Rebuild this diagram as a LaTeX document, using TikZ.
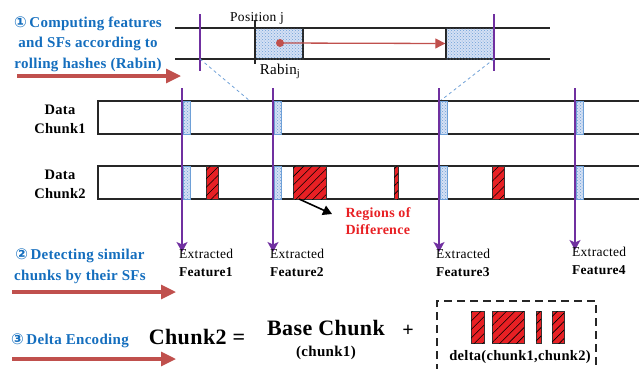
\documentclass[tikz,border=0pt]{standalone}
\usepackage{fontspec}
\setmainfont{Liberation Serif}[LetterSpace=2]
\newfontfamily\numfont{DejaVu Sans}
\usetikzlibrary{arrows.meta,patterns,patterns.meta}
\definecolor{stepblue}{RGB}{20,110,190}
\definecolor{steparrow}{RGB}{192,80,77}
\definecolor{featpurple}{RGB}{112,48,160}
\definecolor{diffred}{RGB}{232,32,36}
\definecolor{sfblue}{RGB}{110,160,215}
\definecolor{sffill}{RGB}{212,224,244}
\tikzset{
  steptext/.style={text=stepblue,align=center,font=\fontsize{15}{20.5}\selectfont\bfseries},
  steparr/.style={draw=steparrow,line width=3.2pt,-{Triangle[length=15pt,width=14pt]}},
  featarr/.style={draw=featpurple,line width=1.6pt,-{Stealth[length=10pt,width=11pt,inset=2.5pt]}},
  sfbox/.style={fill=sffill,draw=sfblue,line width=0.8pt,postaction={pattern=crosshatch dots,pattern color=sfblue}},
  diffbox/.style={fill=diffred,draw=black!80,line width=0.6pt,postaction={pattern={Lines[angle=45,distance=6pt,line width=0.6pt]},pattern color=black}},
  rabinwin/.style={draw=black!85,line width=1.4pt,minimum width=48pt,minimum height=31pt,inner sep=0pt,fill=sffill,postaction={pattern=crosshatch dots,pattern color=sfblue}},
  featlbl/.style={anchor=north west,align=left,inner sep=0pt,font=\fontsize{13.5}{18}\selectfont}
}
\begin{document}
\begin{tikzpicture}[x=1pt,y=-1pt]
    \useasboundingbox (0,0) rectangle (639,368);
    % step 1: rolling window
    \draw[line width=1.1pt,black!85] (175,28)--(550,28);\draw[line width=1.1pt,black!85] (175,59)--(550,59);
    \node[rabinwin] (win1) at (279,43.5) {};\node[rabinwin] (win2) at (470,43.5) {};
    \draw[line width=1.6pt,black!85] (255,20)--(255,64);
    \fill[steparrow] (280,43) circle (4pt);\coordinate (dot) at (280,43);
    \draw[steparrow,line width=1.3pt,-{Triangle[length=10pt,width=10pt]}] (dot)--(win2.west);
    \node (posj) at (257,18) {\fontsize{13.5}{14}\selectfont Position j};
    \node (rabj) at (280,71) {\fontsize{15}{14}\selectfont Rabin\textsubscript{j}};
    \draw[featpurple,line width=1.6pt] (200,14)--(200,71);\draw[featpurple,line width=1.6pt] (494,14)--(494,71);
    \draw[sfblue,dashed,line width=0.8pt] (200,59)--(250,101);\draw[sfblue,dashed,line width=0.8pt] (494,59)--(440,101);
    \node[steptext] (step1) at (88,44) {{\numfont ①}\,Computing features\\and SFs according to\\rolling hashes (Rabin)};
    \coordinate (s1a) at (17,76);\coordinate (s1b) at (181,76);\draw[steparr] (s1a)--(s1b);
    % data chunks
    \draw[line width=1.1pt,black!85] (640,101)--(98,101)--(98,134)--(640,134);
    \draw[line width=1.1pt,black!85] (640,166)--(98,166)--(98,199)--(640,199);
    \node[align=center,font=\fontsize{14.5}{19}\selectfont\bfseries] (chunk1) at (60,119) {Data\\Chunk1};
    \node[align=center,font=\fontsize{14.5}{19}\selectfont\bfseries] (chunk2) at (60,184) {Data\\Chunk2};
    \draw[sfbox] (183,101) rectangle (190,134);\draw[sfbox] (274,101) rectangle (281,134);
    \draw[sfbox] (440,101) rectangle (447,134);\draw[sfbox] (576,101) rectangle (583,134);
    \draw[sfbox] (183,166) rectangle (190,199);\draw[sfbox] (274,166) rectangle (281,199);
    \draw[sfbox] (440,166) rectangle (447,199);\draw[sfbox] (576,166) rectangle (583,199);
    \draw[diffbox] (206,166) rectangle (218,199);\draw[diffbox] (293,166) rectangle (326,199);
    \draw[diffbox] (394,166) rectangle (398,199);\draw[diffbox] (492,166) rectangle (504,199);
    \node[text=diffred,align=left,font=\fontsize{14}{17}\selectfont\bfseries] (regions) at (378,221) {Regions of\\Difference};
    \coordinate (diffsrc) at (299,199);\coordinate (diffend) at (332,214);
    \draw[line width=1.6pt,-{Triangle[length=9pt,width=10pt]}] (diffsrc)--(diffend);
    % extracted features
    \coordinate (f1) at (182,88);\coordinate (f1tip) at (182,252);\draw[featarr] (f1)--(f1tip);
    \coordinate (f2) at (273,88);\coordinate (f2tip) at (273,252);\draw[featarr] (f2)--(f2tip);
    \coordinate (f3) at (439,88);\coordinate (f3tip) at (439,252);\draw[featarr] (f3)--(f3tip);
    \coordinate (f4) at (575,88);\coordinate (f4tip) at (575,250);\draw[featarr] (f4)--(f4tip);
    \node[featlbl] (feat1) at (179,249) {Extracted\\\textbf{Feature1}};
    \node[featlbl] (feat2) at (270,249) {Extracted\\\textbf{Feature2}};
    \node[featlbl] (feat3) at (436,249) {Extracted\\\textbf{Feature3}};
    \node[featlbl] (feat4) at (572,247) {Extracted\\\textbf{Feature4}};
    \node[steptext] (step2) at (80,266) {{\numfont ②}\,Detecting similar\\chunks by their SFs};
    \coordinate (s2a) at (12,292);\coordinate (s2b) at (176,292);\draw[steparr] (s2a)--(s2b);
    % step 3: delta encoding
    \node[steptext] (step3) at (70,341) {{\numfont ③}\,Delta Encoding};
    \coordinate (s3a) at (12,359);\coordinate (s3b) at (176,359);\draw[steparr] (s3a)--(s3b);
    \node[font=\fontsize{22}{24}\selectfont\bfseries] (lhs) at (197,337) {Chunk2 =};
    \node[font=\fontsize{22}{24}\selectfont\bfseries] (base) at (326,328) {Base Chunk};
    \node[font=\fontsize{15}{16}\selectfont\bfseries] (basesub) at (326,353) {(chunk1)};
    \node[font=\fontsize{20}{20}\selectfont\bfseries] (plus) at (408,331) {+};
    \draw[black!85,line width=1.4pt,dash pattern=on 8pt off 5pt] (437,372)--(437,301)--(596,301)--(596,372);
    \draw[diffbox] (471,311) rectangle (484,343);\draw[diffbox] (492,311) rectangle (524,343);
    \draw[diffbox] (536,311) rectangle (541,343);\draw[diffbox] (552,311) rectangle (564,343);
    \node[font=\fontsize{14.5}{15}\selectfont\bfseries] (delta) at (520,357) {delta(chunk1,chunk2)};
\end{tikzpicture}
\end{document}
